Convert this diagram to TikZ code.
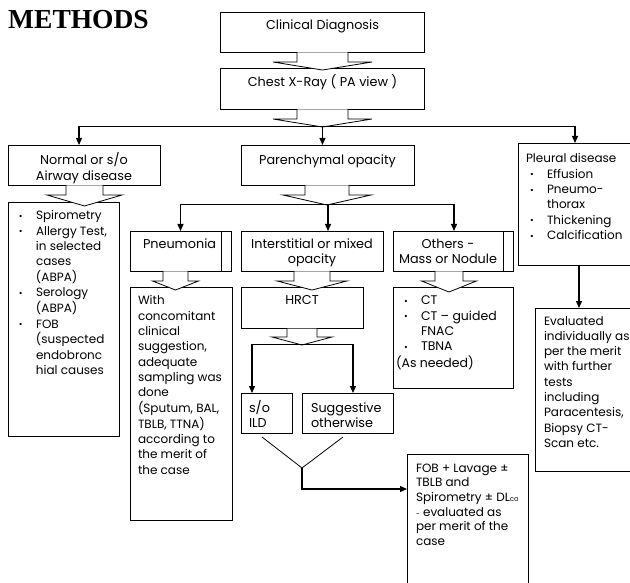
\documentclass[tikz,border=0pt]{standalone}
\usepackage{fontspec}
\setmainfont{Poppins}
\newfontfamily\titlefont{Liberation Serif}
\usetikzlibrary{arrows.meta,calc}
\newcommand\bl[1]{\hspace*{#1}\makebox[17pt][l]{\raisebox{0.05ex}{\fontsize{9}{9}\selectfont •}}}
\newcommand\ind[1]{\hspace*{#1}\hspace*{17pt}}
\newcommand\tl[1]{\begin{tabular}[t]{@{}l@{}}#1\end{tabular}}
\newcommand\tc[1]{\begin{tabular}[t]{@{}c@{}}#1\end{tabular}}
\newcommand\hollowarrow[6]{%
  \fill[white] ({#1-#3},{#2+0.5}) -- ({#1-#3},#5) -- ({#1-#4},#5) -- (#1,#6) -- ({#1+#4},#5) -- ({#1+#3},#5) -- ({#1+#3},{#2+0.5}) -- cycle;
  \draw[hol] ({#1-#3},#2) -- ({#1-#3},#5) -- ({#1-#4},#5) -- (#1,#6) -- ({#1+#4},#5) -- ({#1+#3},#5) -- ({#1+#3},#2);}
\begin{document}
\begin{tikzpicture}[x=1pt,y=-1pt,
  font=\fontsize{12}{15.3}\selectfont,
  box/.style={draw, line width=0.8pt, fill=white, inner sep=0pt, outer sep=0pt, anchor=north west},
  txt/.style={inner sep=0pt, outer sep=0pt, anchor=base west},
  ctxt/.style={inner sep=0pt, outer sep=0pt, anchor=base, font=\fontsize{12.8}{15.3}\selectfont},
  lab/.style={inner sep=0pt, outer sep=0pt, anchor=base west, font=\fontsize{12.8}{15.3}\selectfont},
  arr/.style={line width=1.3pt, -{Triangle[length=7pt,width=6pt]}},
  bar/.style={line width=0.9pt},
  hol/.style={draw=black, line width=0.8pt, line join=miter},
]
\useasboundingbox (0,0) rectangle (630,583);
\clip (0,0) rectangle (630,583);

% title
\node[anchor=base west, inner sep=0pt, font=\titlefont\bfseries\fontsize{27.5}{30}\selectfont] (title) at (8,29) {METHODS};

% boxes
\node[box, minimum width=204pt, minimum height=40pt] (clin) at (220,12) {};
\node[box, minimum width=204pt, minimum height=41pt] (cxr) at (220,68) {};
\node[box, minimum width=152pt, minimum height=40pt] (normal) at (8,145) {};
\node[box, minimum width=173pt, minimum height=40pt] (paren) at (241,145) {};
\node[box, minimum width=122pt, minimum height=122pt] (pleural) at (518,143) {};
\node[box, minimum width=111pt, minimum height=234pt] (nbul) at (8,202) {};
\node[box, minimum width=101pt, minimum height=40pt] (pneu) at (130,231) {};
\node[box, minimum width=142pt, minimum height=40pt] (inter) at (241,231) {};
\node[box, minimum width=120pt, minimum height=40pt] (others) at (393,231) {};
\node[box, minimum width=102pt, minimum height=233pt] (pneutxt) at (130,287) {};
\node[box, minimum width=122pt, minimum height=41pt] (hrct) at (241,287) {};
\node[box, minimum width=120pt, minimum height=101pt] (ctbox) at (393,287) {};
\node[box, minimum width=105pt, minimum height=163pt] (eval) at (535,308) {};
\node[box, minimum width=51pt, minimum height=40pt] (ild) at (241,393) {};
\node[box, minimum width=91pt, minimum height=40pt] (sugg) at (302,393) {};
\node[box, minimum width=121pt, minimum height=160pt] (fob) at (407,454) {};

% inner frame lines
\draw[line width=0.8pt] ($(pneu.north east)+(-10,0)$) -- ($(pneu.south east)+(-10,0)$);
\draw[line width=0.8pt] ($(others.north east)+(-10,0)$) -- ($(others.south east)+(-10,0)$);

% hollow block arrows
\hollowarrow{322.5}{52}{25.5}{49.5}{62}{70}
\hollowarrow{322.5}{109}{25.5}{49.5}{119}{127}
\hollowarrow{84.5}{185}{18.5}{37.5}{195}{206}
\hollowarrow{327}{185}{22}{44}{195}{205}
\hollowarrow{175.5}{271}{12.5}{23}{281}{290}
\hollowarrow{312}{271}{18}{35}{281}{290}
\hollowarrow{449}{271}{14}{27.5}{281}{292}
\hollowarrow{302}{328}{15}{30}{337}{345}

% texts
\node[ctxt] (clin-t) at (322.5,30) {Clinical Diagnosis};
\node[ctxt] (cxr-t) at (322.5,87) {Chest X-Ray ( PA view )};
\node[ctxt] (normal-t) at (84,165) {\tc{Normal or s/o\\Airway disease}};
\node[ctxt] (paren-t) at (327.5,165) {Parenchymal opacity};
\node[txt] (pleural-t) at (526,163) {\tl{Pleural disease\\
\bl{4pt}Effusion\\
\bl{4pt}Pneumo-\\
\ind{4pt}thorax\\
\bl{4pt}Thickening\\
\bl{4pt}Calcification}};
\node[txt] (nbul-t) at (19,220) {\tl{\bl{0pt}Spirometry\\ \bl{0pt}Allergy Test,\\ \ind{0pt}in selected\\ \ind{0pt}cases\\ \ind{0pt}(ABPA)\\
\bl{0pt}Serology\\ \ind{0pt}(ABPA)\\ \bl{0pt}FOB\\ \ind{0pt}(suspected\\ \ind{0pt}endobronc\\ \ind{0pt}hial causes}};
\node[lab] (pneu-t) at (143,248) {Pneumonia};
\node[ctxt] (inter-t) at (312,248) {\tc{Interstitial or mixed\\opacity}};
\node[ctxt] (others-t) at (448,248) {\tc{Others -\\Mass or Nodule}};
\node[txt] (pneutxt-t) at (138,305) {\tl{With\\concomitant\\clinical\\suggestion,\\adequate\\sampling was\\done\\(Sputum, BAL,\\TBLB, TTNA)\\according to\\the merit of\\the case}};
\node[ctxt] (hrct-t) at (302,305) {HRCT};
\node[txt, font=\fontsize{12.5}{15.3}\selectfont] (ct-t) at (396,305) {\tl{\bl{8pt}CT\\
\bl{8pt}CT – guided\\
\ind{8pt}FNAC\\
\bl{8pt}TBNA\\
(As needed)}};
\node[txt] (eval-t) at (544,325) {\tl{Evaluated\\individually as\\per the merit\\with further\\tests\\including\\Paracentesis,\\Biopsy CT-\\Scan etc.}};
\node[lab] (ild-t) at (249,412) {\tl{s/o\\ILD}};
\node[lab] (sugg-t) at (311,412) {\tl{Suggestive\\otherwise}};
\node[txt, font=\fontsize{12}{14.7}\selectfont] (fob-t) at (416,472) {\tl{FOB + Lavage ±\\TBLB and\\Spirometry ± DL{\fontsize{7}{7}\selectfont co}\\{\fontsize{7}{7}\selectfont -} evaluated as\\per merit of the\\case}};

% connectors
\coordinate (b1) at (322.5,126);
\coordinate (b1l) at (79,126);
\coordinate (b1r) at (575,126);
\draw[bar] (b1l) -- (b1r);
\draw[arr] (b1l) -- (b1l |- normal.north);
\draw[arr] (b1) -- (b1 |- paren.north);
\draw[arr] (b1r) -- (b1r |- pleural.north);

\coordinate (b2) at (328,204);
\coordinate (b2l) at (180.5,204);
\coordinate (b2r) at (454,204);
\draw[bar] (b2l) -- (b2r);
\draw[arr] (b2l) -- (pneu.north);
\draw[arr] (b2) -- (b2 |- inter.north);
\draw[arr] (b2r) -- (b2r |- others.north);

\coordinate (b3l) at (252,344);
\coordinate (b3r) at (353,344);
\draw[bar] (b3l) -- (b3r);
\draw[arr] (b3l) -- (b3l |- ild.north);
\draw[arr] (b3r) -- (b3r |- sugg.north);

\coordinate (evin) at ($(eval.north west)+(44,0)$);
\draw[arr] (pleural.south -| evin) -- (evin);

\coordinate (v1) at (262,437);
\coordinate (v2) at (343,437);
\coordinate (vj) at (302,468);
\draw[line width=0.8pt] (v1) -- (vj) -- (v2);
\draw[arr] (vj) |- ($(fob.north west)+(0,35)$);
\end{tikzpicture}
\end{document}
